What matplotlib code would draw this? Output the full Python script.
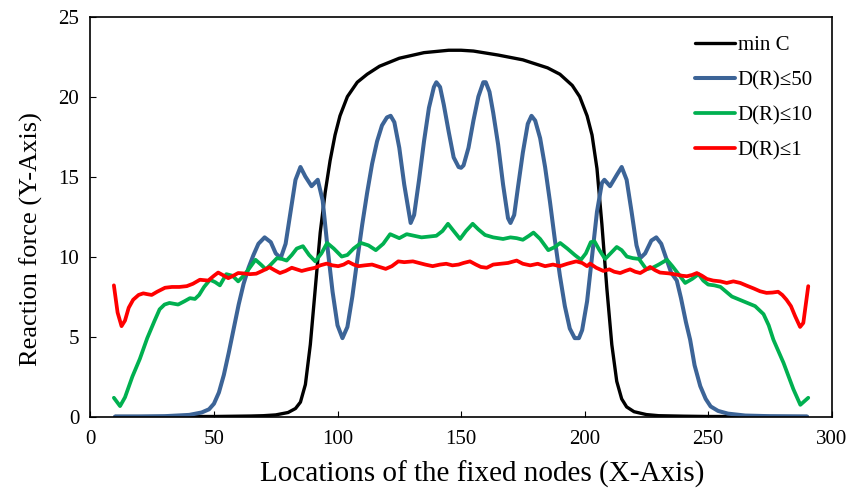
import matplotlib
matplotlib.use("Agg")
import matplotlib.pyplot as plt

plt.rcParams['font.family'] = ['Liberation Serif', 'DejaVu Serif']

# min C
x_minc = [10, 20, 30, 40, 50, 60, 65, 70, 75, 80, 83, 85, 87, 89, 91, 93, 95, 97, 99, 101,
          104, 108, 112, 117, 125, 135, 145, 150, 155, 165, 175, 185, 190, 195, 198, 201,
          203, 205, 207, 209, 211, 213, 215, 217, 220, 225, 230, 240, 250, 260, 270, 280, 290]
y_minc = [0, 0, 0, 0, 0, 0.02, 0.03, 0.05, 0.1, 0.25, 0.5, 0.9, 2, 4.5, 8, 11.5, 14, 16, 17.6, 18.8,
          20, 20.9, 21.4, 21.9, 22.4, 22.75, 22.9, 22.9, 22.85, 22.6, 22.3, 21.8, 21.4, 20.7, 20.0, 18.8,
          17.6, 15.5, 12, 8, 4.5, 2.2, 1.1, 0.6, 0.3, 0.12, 0.05, 0.02, 0, 0, 0, 0, 0]

# D(R)<=50
x_d50 = [10, 20, 30, 40, 45, 48, 50, 52, 54, 56, 58, 60, 62, 64, 66, 68, 70.5, 73, 75, 77, 79, 81,
         83, 85, 87, 89.5, 92, 94, 96, 98, 100, 102, 104, 106, 108, 110, 112, 114, 116, 118, 120,
         121.5, 123, 125, 127, 129.6, 131, 133, 135, 137, 139, 140, 141.5, 143, 145, 147, 149, 150,
         151, 153, 155, 157, 159, 160, 161.5, 163, 165, 167, 169, 170, 171.5, 173, 175, 177, 178.5,
         180, 182, 184, 186, 188, 190, 192, 194, 196, 197.7, 199, 201, 203, 205, 207, 208, 210.3,
         213, 215, 217, 219, 221, 222.5, 224.5, 227, 229, 231, 233, 235, 237.3, 239, 241, 242.7,
         244.5, 246.8, 249, 251, 254, 258, 265, 275, 290]
y_d50 = [0, 0, 0.02, 0.1, 0.25, 0.45, 0.8, 1.5, 2.6, 4.0, 5.5, 7.0, 8.3, 9.3, 10.1, 10.8, 11.2, 10.9, 10.2, 9.9, 10.8, 12.8,
         14.8, 15.6, 15.0, 14.4, 14.8, 13.5, 10.5, 7.8, 5.7, 4.9, 5.6, 7.5, 9.8, 12.0, 14.0, 15.8, 17.2, 18.2, 18.7,
         18.8, 18.4, 16.8, 14.5, 12.1, 12.6, 14.8, 17.2, 19.3, 20.6, 20.9, 20.6, 19.5, 17.8, 16.2, 15.6, 15.55,
         15.7, 16.8, 18.5, 20.0, 20.9, 20.9, 20.3, 19.0, 17.0, 14.5, 12.4, 12.1, 12.6, 14.3, 16.5, 18.3, 18.8,
         18.5, 17.4, 15.6, 13.4, 11.0, 8.8, 6.9, 5.5, 4.9, 4.9, 5.4, 7.2, 10.0, 12.8, 14.6, 14.8, 14.4,
         15.1, 15.6, 14.8, 12.8, 10.7, 9.9, 10.2, 11.0, 11.2, 10.8, 9.9, 9.0, 8.5, 7.4, 5.9, 4.8,
         3.2, 1.9, 1.1, 0.63, 0.35, 0.18, 0.06, 0.02, 0]

# D(R)<=10
x_d10 = [9.5, 12, 14, 17, 20, 23, 26, 28, 30, 32, 35.5, 38, 40.3, 42.3, 44, 46, 48.4, 50.5, 52.4, 55,
         57.5, 59.8, 62, 64, 66.8, 69, 71, 73, 75.5, 77.5, 79.4, 81.5, 83.5, 86, 88.5, 91, 93.5, 95.8,
         98.5, 101.7, 104, 106.5, 109.5, 112.5, 115.5, 118.5, 121.3, 125, 128, 131, 134, 137, 140, 142.5,
         144.7, 147, 149.6, 152, 154.7, 157, 159.7, 163, 167, 170, 172.5, 175, 177.5, 179.3, 182, 185.3,
         188, 190.1, 193, 196, 198.5, 200.5, 202.5, 204, 206, 208.3, 210.5, 213, 215, 217.1, 219.5, 222,
         225, 227.5, 230, 233.3, 235.5, 238, 240.7, 243.5, 246.1, 248, 250, 252.5, 255, 259.6, 264.3, 269,
         272.4, 274.5, 276.4, 280.5, 284.5, 287.3, 290.5]
y_d10 = [1.17, 0.65, 1.2, 2.5, 3.6, 4.9, 6.0, 6.7, 7.0, 7.1, 7.0, 7.2, 7.4, 7.35, 7.6, 8.1, 8.55, 8.4, 8.2, 8.9,
         8.8, 8.45, 8.8, 9.2, 9.8, 9.5, 9.2, 9.5, 9.9, 9.85, 9.75, 10.1, 10.5, 10.65, 10.1, 9.7, 10.2, 10.85,
         10.5, 10.0, 10.1, 10.5, 10.85, 10.7, 10.4, 10.8, 11.4, 11.15, 11.4, 11.3, 11.2, 11.25, 11.3, 11.6,
         12.05, 11.6, 11.1, 11.6, 12.05, 11.7, 11.35, 11.2, 11.1, 11.2, 11.15, 11.05, 11.3, 11.5, 11.1, 10.4,
         10.6, 10.85, 10.5, 10.1, 9.8, 10.2, 10.9, 10.95, 10.4, 9.85, 10.2, 10.6, 10.4, 10.0, 9.9, 9.85,
         9.2, 9.3, 9.5, 9.8, 9.4, 8.9, 8.35, 8.6, 8.9, 8.5, 8.25, 8.2, 8.1, 7.5, 7.2, 6.9,
         6.4, 5.7, 4.8, 3.35, 1.7, 0.73, 1.17]

# D(R)<=1
x_d1 = [9.5, 11, 12.6, 14, 15.5, 17.3, 19.5, 21.4, 23, 24.8, 27, 30.2, 33, 36, 39, 41.5, 44.3, 47.7, 50,
        51.7, 53.5, 55.8, 57.8, 59.8, 61.7, 64.5, 67.1, 69.5, 72.5, 74.5, 76.7, 79, 81.5, 83.5, 85.5, 88,
        90.9, 93, 95.6, 98, 100.3, 102.5, 104.4, 106.5, 108.5, 111, 114, 117, 119.5, 122, 124.6, 127,
        130.5, 133, 135.5, 138.5, 141.5, 144, 146.5, 149, 151, 153.6, 156, 158, 160.4, 163, 166, 169,
        172.5, 175, 178, 181, 184, 187.2, 190, 193, 196.6, 199, 201, 202.2, 204.7, 207.6, 210, 212,
        214.4, 216.5, 218.4, 220.5, 222.5, 224.5, 226.5, 228.5, 230.5, 234, 237.3, 239.5, 241.4, 243.5,
        245.4, 247.5, 249.5, 252, 254.9, 257.5, 260.2, 263, 265.6, 268.5, 271, 273.6, 276, 278.3, 280,
        281.7, 283.5, 285.2, 287.2, 288.5, 290.5]
y_d1 = [8.2, 6.5, 5.65, 6.0, 6.8, 7.3, 7.6, 7.7, 7.65, 7.6, 7.8, 8.05, 8.1, 8.1, 8.15, 8.3, 8.55, 8.5, 8.8,
        9.0, 8.85, 8.65, 8.8, 8.97, 8.95, 8.9, 8.93, 9.1, 9.33, 9.15, 8.97, 9.1, 9.3, 9.2, 9.1, 9.2,
        9.3, 9.45, 9.56, 9.45, 9.4, 9.5, 9.67, 9.5, 9.4, 9.45, 9.5, 9.35, 9.23, 9.4, 9.7, 9.65,
        9.7, 9.6, 9.5, 9.4, 9.5, 9.55, 9.45, 9.5, 9.6, 9.7, 9.5, 9.35, 9.3, 9.5, 9.55, 9.6,
        9.75, 9.55, 9.45, 9.55, 9.4, 9.5, 9.4, 9.55, 9.7, 9.6, 9.4, 9.56, 9.3, 9.1, 9.2, 9.05,
        8.97, 9.1, 9.2, 9.05, 8.97, 9.15, 9.35, 9.15, 9.0, 8.95, 8.87, 8.8, 8.77, 8.85,
        8.97, 8.8, 8.6, 8.5, 8.45, 8.35, 8.45, 8.35, 8.18, 8.0, 7.83, 7.73, 7.75, 7.8, 7.6,
        7.3, 6.9, 6.27, 5.6, 5.85, 8.15]

labels = ['min C', 'D(R)\u226450', 'D(R)\u226410', 'D(R)\u22641']
colors = ['#000000', '#3C6497', '#00B050', '#FF0000']

fig = plt.figure(figsize=(8.61, 4.9), dpi=100)
ax = fig.add_axes([0.105, 0.15, 0.861, 0.816])

style = dict(solid_joinstyle='round', solid_capstyle='round')
ax.plot(x_minc, y_minc, color=colors[0], lw=2.4, label=labels[0], **style)
ax.plot(x_d50, y_d50, color=colors[1], lw=2.9, label=labels[1], **style)
ax.plot(x_d10, y_d10, color=colors[2], lw=2.7, label=labels[2], **style)
ax.plot(x_d1, y_d1, color=colors[3], lw=2.7, label=labels[3], **style)

ax.set_xlim(0, 300)
ax.set_ylim(0, 25)
ax.set_xticks(range(0, 301, 50))
ax.set_yticks(range(0, 26, 5))
ax.tick_params(direction='in', length=4, labelsize=15)
ax.tick_params(axis='x', pad=10)
ax.tick_params(axis='y', pad=8)
for s in ax.spines.values():
    s.set_linewidth(1.2)

ax.set_xlabel('Locations of the fixed nodes (X-Axis)', fontsize=21)
ax.set_ylabel('Reaction force (Y-Axis)', fontsize=19)
ax.xaxis.set_label_coords(0.528, -0.11)
ax.yaxis.set_label_coords(-0.064, 0.445)

ax.legend(loc='upper right', frameon=False, fontsize=15, handlelength=1.9,
          handletextpad=0.15, labelspacing=0.75, bbox_to_anchor=(1.0, 1.0))

fig.savefig('out.png', dpi=100)
